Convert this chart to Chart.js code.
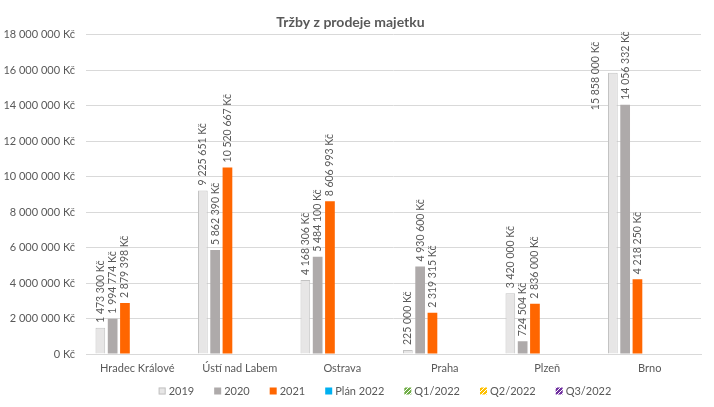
<!DOCTYPE html>
<html>
<head>
<meta charset="utf-8">
<script src="https://cdn.jsdelivr.net/npm/chart.js@4.4.0/dist/chart.umd.min.js"></script>
<style>
html,body{margin:0;padding:0;background:#ffffff;}
#wrap{width:714px;height:407px;position:relative;}
</style>
</head>
<body>
<div id="wrap"><canvas id="c" width="714" height="407"></canvas></div>
<script>
// ---- data ----
const categories = ['Hradec Králové', 'Ústí nad Labem', 'Ostrava', 'Praha', 'Plzeň', 'Brno'];
const sales2019 = [1473300, 9225651, 4168306, 225000, 3420000, 15858000];
const sales2020 = [1994774, 5862390, 5484100, 4930600, 724504, 14056332];
const sales2021 = [2879398, 10520667, 8606993, 2319315, 2836000, 4218250];
const plan2022 = [null, null, null, null, null, null];
const q1_2022 = [null, null, null, null, null, null];
const q2_2022 = [null, null, null, null, null, null];
const q3_2022 = [null, null, null, null, null, null];
const seriesNames = ['2019', '2020', '2021', 'Plán 2022', 'Q1/2022', 'Q2/2022', 'Q3/2022'];
const yMin = 0, yMax = 18000000, yStep = 2000000;
const chartTitle = 'Tržby z prodeje majetku';

const FONT = 'Lato';
const TXT = '#595959';

function kc(v) {
  return String(Math.round(v)).replace(/\B(?=(\d{3})+(?!\d))/g, ' ') + ' Kč';
}

function makePattern(bg, fg) {
  const c = document.createElement('canvas');
  c.width = 4; c.height = 4;
  const x = c.getContext('2d');
  x.fillStyle = bg; x.fillRect(0, 0, 4, 4);
  x.fillStyle = fg;
  x.fillRect(0, 3, 1, 1); x.fillRect(1, 2, 1, 1); x.fillRect(2, 1, 1, 1); x.fillRect(3, 0, 1, 1);
  return x.createPattern(c, 'repeat');
}

const pQ1 = makePattern('#70ad47', '#ffffff');
const pQ2 = makePattern('#ffc000', '#ffffff');
const pQ3 = makePattern('#7030a0', '#ffffff');

const styles = [
  { bg: '#e7e6e6', border: '#c3c3c3', bw: 1, labels: true },
  { bg: '#aeaaaa', border: '#aeaaaa', bw: 0, labels: true },
  { bg: '#ff6600', border: '#ff6600', bw: 0, labels: true },
  { bg: '#00b0f0', border: '#00b0f0', bw: 0, labels: false },
  { bg: pQ1, border: '#70ad47', bw: 0, labels: false },
  { bg: pQ2, border: '#ffc000', bw: 0, labels: false },
  { bg: pQ3, border: '#7030a0', bw: 0, labels: false }
];
const seriesData = [sales2019, sales2020, sales2021, plan2022, q1_2022, q2_2022, q3_2022];

const datasets = seriesNames.map((name, i) => ({
  label: name,
  data: seriesData[i],
  backgroundColor: styles[i].bg,
  borderColor: styles[i].border,
  borderWidth: styles[i].bw,
  showLabels: styles[i].labels,
  categoryPercentage: 0.84,
  barPercentage: 0.79
}));

// rotated value labels above bars (kept inside the plot like the original)
const barLabels = {
  id: 'barLabels',
  afterDatasetsDraw(chart) {
    const ctx = chart.ctx;
    const top = chart.chartArea.top;
    ctx.save();
    ctx.font = '10.5px ' + FONT;
    ctx.fillStyle = TXT;
    ctx.textAlign = 'left';
    ctx.textBaseline = 'middle';
    chart.data.datasets.forEach((ds, i) => {
      if (!ds.showLabels) return;
      const meta = chart.getDatasetMeta(i);
      meta.data.forEach((bar, j) => {
        const v = ds.data[j];
        if (v == null) return;
        const txt = kc(v);
        const w = ctx.measureText(txt).width;
        let x = bar.x, y = bar.y - 5;
        if (y - w < top - 12) {
          // not enough room above: move beside the bar, inside the plot
          x = bar.x - 17;
          y = top + 7 + w;
        }
        ctx.save();
        ctx.translate(x, y);
        ctx.rotate(-Math.PI / 2);
        ctx.fillText(txt, 0, 0);
        ctx.restore();
      });
    });
    ctx.restore();
  }
};

// legend drawn at the bottom
const bottomLegend = {
  id: 'bottomLegend',
  afterDraw(chart) {
    const ctx = chart.ctx;
    ctx.save();
    ctx.font = '11px ' + FONT;
    ctx.textBaseline = 'middle';
    ctx.textAlign = 'left';
    const box = 7, gap = 3, space = 20;
    const ds = chart.data.datasets;
    let total = 0;
    const widths = ds.map(d => ctx.measureText(d.label).width);
    widths.forEach((w, i) => { total += box + gap + w + (i < widths.length - 1 ? space : 0); });
    let x = 385 - total / 2;
    const y = 391;
    ds.forEach((d, i) => {
      ctx.fillStyle = d.backgroundColor;
      ctx.fillRect(x, y - box / 2, box, box);
      if (d.borderWidth) {
        ctx.strokeStyle = d.borderColor;
        ctx.lineWidth = 1;
        ctx.strokeRect(x + 0.5, y - box / 2 + 0.5, box - 1, box - 1);
      }
      ctx.fillStyle = TXT;
      ctx.fillText(d.label, x + box + gap, y);
      x += box + gap + widths[i] + space;
    });
    ctx.restore();
  }
};

new Chart(document.getElementById('c'), {
  type: 'bar',
  data: { labels: categories, datasets: datasets },
  options: {
    responsive: false,
    animation: false,
    events: [],
    layout: { padding: { left: 0, right: 13, top: 0, bottom: 29 } },
    plugins: {
      legend: { display: false },
      tooltip: { enabled: false },
      title: {
        display: true,
        text: chartTitle,
        color: TXT,
        font: { family: FONT, size: 14, weight: 'bold' },
        padding: { top: 14, bottom: 4 }
      }
    },
    scales: {
      x: {
        grid: { display: false, drawTicks: false },
        border: { display: true, color: '#d9d9d9', width: 1 },
        ticks: { color: TXT, font: { family: FONT, size: 11 }, padding: 8, maxRotation: 0, autoSkip: false },
        afterFit(scale) { scale.height = 24; }
      },
      y: {
        min: yMin,
        max: yMax,
        grid: { color: '#d9d9d9', lineWidth: 1, drawTicks: false },
        border: { display: false },
        ticks: {
          stepSize: yStep,
          color: TXT,
          font: { family: FONT, size: 11 },
          padding: 11,
          callback: v => kc(v)
        },
        afterFit(scale) { scale.width = 86; }
      }
    }
  },
  plugins: [barLabels, bottomLegend]
});
</script>
</body>
</html>
